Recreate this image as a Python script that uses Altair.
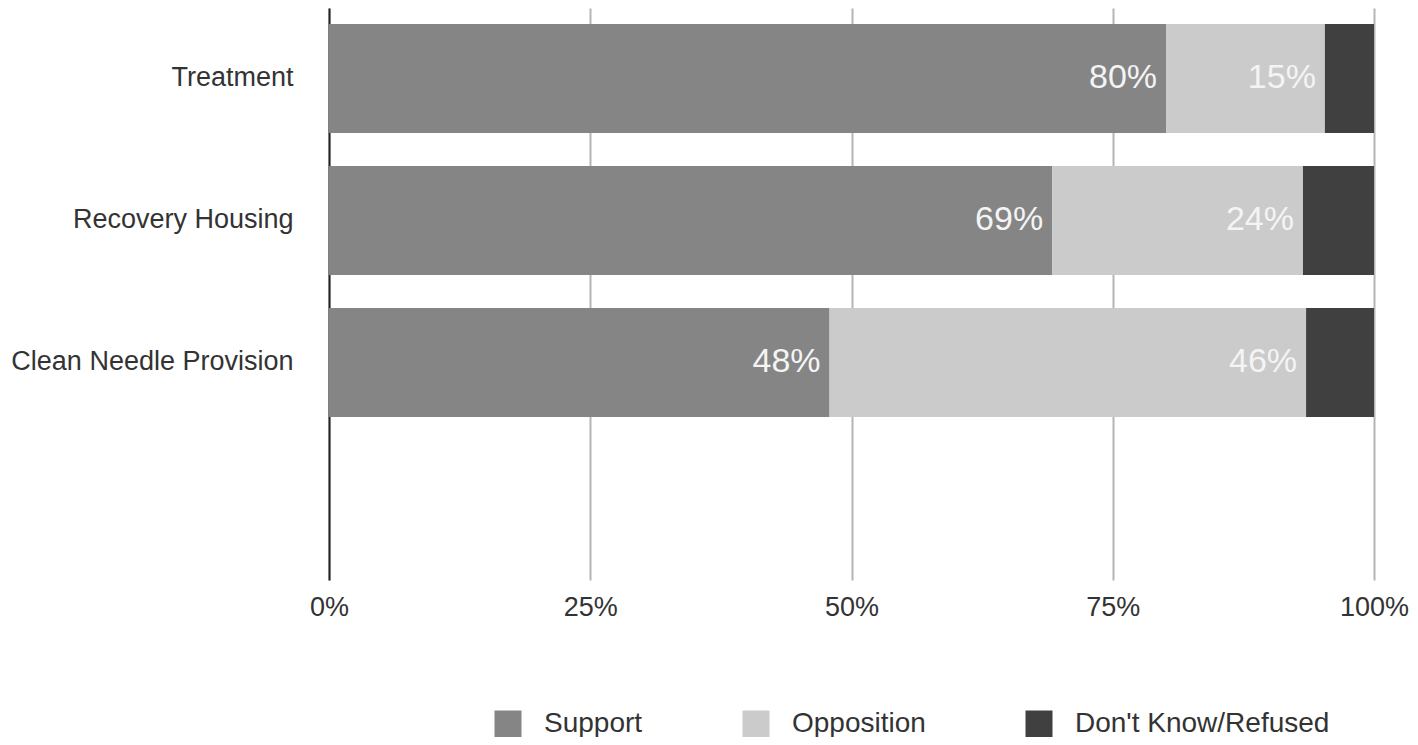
import altair as alt
import pandas as pd

categories = ["Treatment", "Recovery Housing", "Clean Needle Provision"]
support = [80.1, 69.2, 47.9]
opposition = [15.2, 24.0, 45.6]
dont_know = [4.7, 6.8, 6.5]
responses = ["Support", "Opposition", "Don't Know/Refused"]
colors = ["#858585", "#cbcbcb", "#404040"]
x_ticks = [0, 25, 50, 75, 100]

rows = []
for i, c in enumerate(categories):
    start = 0.0
    for j, (r, vals) in enumerate(zip(responses, [support, opposition, dont_know])):
        v = vals[i]
        rows.append(dict(category=c, response=r, order=j, start=start,
                         end=start + v, value=v,
                         label=(f"{v:.0f}%" if j < 2 else "")))
        start += v
df = pd.DataFrame(rows)

FONT = "Liberation Sans"
y_domain = categories + [" "]

yscale = alt.Scale(domain=y_domain, paddingInner=0.2324, paddingOuter=0.13, align=0.43)

bars = alt.Chart(df).mark_bar().encode(
    x=alt.X("start:Q",
            scale=alt.Scale(domain=[0, 100], nice=False),
            axis=alt.Axis(title=None, values=x_ticks, labelExpr="datum.value + '%'",
                          grid=True, gridColor="#b5b5b5", gridWidth=2,
                          domain=False, ticks=False, tickSize=0, labelFlush=False,
                          labelPadding=14, labelFontSize=27, labelColor="#333333",
                          labelFont=FONT)),
    x2="end:Q",
    y=alt.Y("category:N", scale=yscale, sort=y_domain,
            axis=alt.Axis(title=None, ticks=False, tickSize=0, domain=True,
                          domainColor="#222222", domainWidth=2,
                          labelPadding=36, labelFontSize=27, labelColor="#333333",
                          labelFont=FONT, labelLimit=400)),
    color=alt.Color("response:N",
                    scale=alt.Scale(domain=responses, range=colors),
                    legend=alt.Legend(orient="none", legendX=165, legendY=702,
                                      direction="horizontal", title=None,
                                      symbolType="square", symbolSize=729,
                                      symbolStrokeWidth=0, symbolOpacity=1,
                                      labelFontSize=28, labelFont=FONT,
                                      labelColor="#333333", labelOffset=22,
                                      labelLimit=500,
                                      columnPadding=99, padding=0)),
    order=alt.Order("order:Q"),
)

text = alt.Chart(df).transform_filter("datum.label != ''").mark_text(
    align="right", baseline="middle", dx=-9, fontSize=34, font=FONT, color="#f4f4f4"
).encode(
    x=alt.X("end:Q"),
    y=alt.Y("category:N", scale=yscale, sort=y_domain),
    text="label:N",
)

chart = alt.layer(bars, text).properties(
    width=1045, height=572,
    autosize=alt.AutoSizeParams(type="none"),
    padding={"left": 321, "top": 0, "right": 36, "bottom": 157},
).configure_view(stroke=None)

chart.save("out.html", embed_options={"renderer": "svg", "actions": False})
